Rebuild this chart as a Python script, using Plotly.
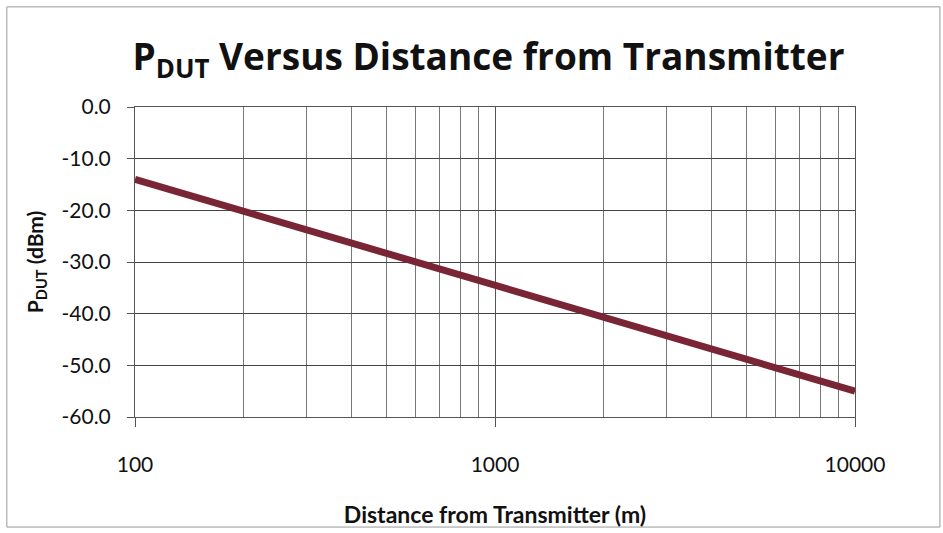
import plotly.graph_objects as go

distance_m = [100, 200, 300, 500, 700, 1000, 2000, 3000, 5000, 7000, 10000]
p_dut_dbm = [-14.0, -20.2, -23.8, -28.3, -31.3, -34.5, -40.7, -44.3, -48.8, -51.8, -55.0]

x_major = [100, 1000, 10000]
x_minor = [m * d for d in (100, 1000) for m in range(2, 10)]
y_ticks = [0, -10, -20, -30, -40, -50, -60]
y_ticktext = ["0.0", "-10.0", "-20.0", "-30.0", "-40.0", "-50.0", "-60.0"]

font = "Lato, 'Open Sans', sans-serif"

fig = go.Figure()
fig.add_trace(go.Scatter(
    x=distance_m, y=p_dut_dbm, mode="lines",
    line=dict(color="#7A2535", width=7),
    showlegend=False,
))

fig.update_layout(
    width=943, height=533,
    margin=dict(l=135, r=88, t=107, b=116, autoexpand=False),
    paper_bgcolor="white", plot_bgcolor="white",
    title=dict(
        text="<b>P<sub>DUT</sub> Versus Distance from Transmitter</b>",
        x=0.518, xanchor="center", y=0.893, yanchor="middle",
        font=dict(family="'Open Sans', sans-serif", size=37, color="#111"),
    ),
    font=dict(family=font, color="#111"),
    shapes=[dict(type="rect", xref="paper", yref="paper",
                 x0=-0.178, x1=1.118, y0=-0.355, y1=1.323,
                 line=dict(color="#999", width=1))],
)

fig.update_xaxes(
    type="log", range=[2, 4], automargin=False,
    tickvals=x_major, ticktext=[str(v) for v in x_major],
    ticks="outside", ticklen=9, tickcolor="#555",
    ticklabelstandoff=20,
    showgrid=True, gridcolor="#555", gridwidth=1,
    minor=dict(tickvals=x_minor, showgrid=True, gridcolor="#777", gridwidth=1, ticks=""),
    showline=True, linecolor="#555", linewidth=1, mirror=True,
    tickfont=dict(size=21, color="#111"),
    title=dict(text="<b>Distance from Transmitter (m)</b>", font=dict(size=23), standoff=31),
)
fig.update_yaxes(
    range=[-60, 0], automargin=False,
    tickvals=y_ticks, ticktext=y_ticktext,
    ticks="outside", ticklen=7, tickcolor="#555",
    ticklabelstandoff=12,
    showgrid=True, gridcolor="#444", gridwidth=1,
    showline=True, linecolor="#555", linewidth=1, mirror=True,
    tickfont=dict(size=21, color="#111"),
    title=dict(text="<b>P<sub>DUT</sub> (dBm)</b>", font=dict(size=21), standoff=12),
    zeroline=False,
)

fig.write_html("out.html", config={"displayModeBar": False},
               post_script="document.body.style.margin='0';")
